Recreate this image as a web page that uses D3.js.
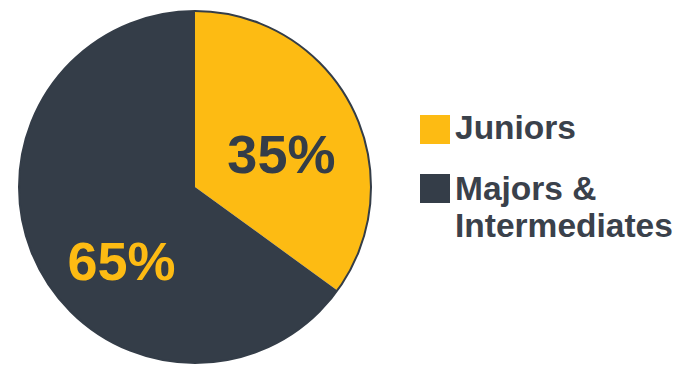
<!DOCTYPE html>
<html>
<head>
<meta charset="utf-8">
<script src="https://cdn.jsdelivr.net/npm/d3@7"></script>
<style>
  html, body { margin: 0; padding: 0; background: #ffffff; }
  svg { display: block; font-family: "Liberation Sans", Arial, sans-serif; }
</style>
</head>
<body>
<svg id="chart" width="681" height="365"></svg>
<script>
// Share of the group by company size
const categories = ["Juniors", "Majors & Intermediates"];
const shares = [35, 65];
const sliceColors = ["#FDBB13", "#343D48"];
const labelColors = ["#343D48", "#FDBB13"];
const legendLines = [["Juniors"], ["Majors &", "Intermediates"]];

const svg = d3.select("#chart");
const cx = 195, cy = 187, r = 176;

const pie = d3.pie().sort(null).value(d => d.value);
const arcs = pie(categories.map((c, i) => ({ name: c, value: shares[i] })));
const arc = d3.arc().innerRadius(0).outerRadius(r);
const labelArc = d3.arc().innerRadius(r * 0.5).outerRadius(r * 0.5);

const g = svg.append("g").attr("transform", `translate(${cx},${cy})`);

g.selectAll("path.slice")
  .data(arcs)
  .join("path")
  .attr("class", "slice")
  .attr("d", arc)
  .attr("fill", (d, i) => sliceColors[i]);

// thin dark rim around the whole pie
g.append("circle")
  .attr("r", r)
  .attr("fill", "none")
  .attr("stroke", "#343D48")
  .attr("stroke-width", 2);

// percentage labels inside the slices (baseline placed below the centroid)
const labelOffsets = [[8, 26], [5, 53]];
g.selectAll("text.pct")
  .data(arcs)
  .join("text")
  .attr("class", "pct")
  .attr("x", (d, i) => labelArc.centroid(d)[0] + labelOffsets[i][0])
  .attr("y", (d, i) => labelArc.centroid(d)[1] + labelOffsets[i][1])
  .attr("text-anchor", "middle")
  .attr("font-size", 54)
  .attr("font-weight", "bold")
  .attr("fill", (d, i) => labelColors[i])
  .text(d => d.data.value + "%");

// legend
const legend = svg.append("g").attr("transform", "translate(420,0)");
const legendTop = [115, 174];
const legendBase = [139, 200];
const lineH = 37;

categories.forEach((c, i) => {
  legend.append("rect")
    .attr("x", 0)
    .attr("y", legendTop[i])
    .attr("width", 30)
    .attr("height", 29)
    .attr("fill", sliceColors[i]);
  const t = legend.append("text")
    .attr("x", 35)
    .attr("y", legendBase[i])
    .attr("font-size", 33.5)
    .attr("font-weight", "bold")
    .attr("fill", "#3A414B");
  legendLines[i].forEach((line, j) => {
    t.append("tspan")
      .attr("x", 35)
      .attr("y", legendBase[i] + j * lineH)
      .text(line);
  });
});
</script>
</body>
</html>
